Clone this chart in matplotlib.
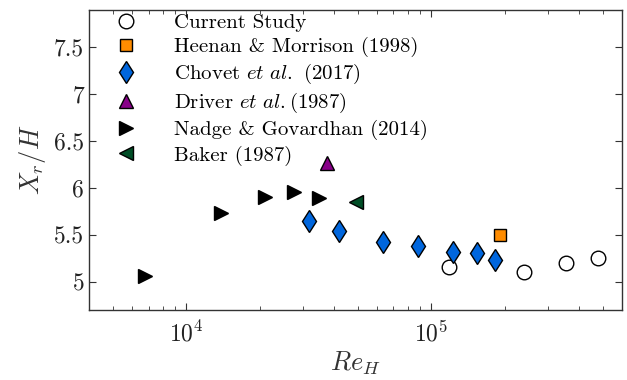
import numpy as np
import matplotlib
matplotlib.use('Agg')
import matplotlib.pyplot as plt
from matplotlib.ticker import FixedLocator, FixedFormatter

plt.rcParams['font.family'] = 'serif'
plt.rcParams['font.serif'] = ['cmr10']
plt.rcParams['mathtext.fontset'] = 'cm'
plt.rcParams['axes.formatter.use_mathtext'] = True

# data
re_current = [118000, 238000, 356000, 477000]
xr_current = [5.16, 5.11, 5.20, 5.25]

re_heenan = [190000]
xr_heenan = [5.50]

re_chovet = [31500, 42000, 63700, 88500, 123000, 154000, 181000]
xr_chovet = [5.65, 5.54, 5.43, 5.38, 5.32, 5.31, 5.23]

re_driver = [37300]
xr_driver = [6.27]

re_nadge = [6740, 13780, 20990, 27600, 34600]
xr_nadge = [5.06, 5.73, 5.91, 5.96, 5.89]

re_baker = [49000]
xr_baker = [5.85]

yticks = [5, 5.5, 6, 6.5, 7, 7.5]
ytick_labels = ['5', '5.5', '6', '6.5', '7', '7.5']

fig = plt.figure(figsize=(6.27, 3.8), dpi=100)
ax = fig.add_axes([0.142, 0.184, 0.85, 0.79])

ax.plot(re_current, xr_current, 'o', ms=10.5, mfc='white', mec='black', mew=1.0,
        label='Current Study')
ax.plot(re_heenan, xr_heenan, 's', ms=8, mfc='#ff8c00', mec='black', mew=1.0,
        label='Heenan & Morrison (1998)')
ax.plot(re_chovet, xr_chovet, 'd', ms=11.5, mfc='#0066dd', mec='black', mew=1.0,
        label=r'Chovet $\mathit{et\ al.}$ (2017)')
ax.plot(re_driver, xr_driver, '^', ms=10.5, mfc='#880088', mec='black', mew=1.0,
        label=r'Driver $\mathit{et\ al.}$(1987)')
ax.plot(re_nadge, xr_nadge, '>', ms=10.5, mfc='black', mec='black', mew=1.0,
        label='Nadge & Govardhan (2014)')
ax.plot(re_baker, xr_baker, '<', ms=10.5, mfc='#004d26', mec='black', mew=1.0,
        label='Baker (1987)')

ax.set_xscale('log')
ax.set_xlim(4000, 600000)
ax.set_ylim(4.7, 7.9)
ax.yaxis.set_major_locator(FixedLocator(yticks))
ax.yaxis.set_major_formatter(FixedFormatter(ytick_labels))

ax.tick_params(which='both', direction='in', top=True, right=True,
               labelsize=17, colors='#333333', labelcolor='#222222')
ax.tick_params(which='major', length=5)
ax.tick_params(which='minor', length=3)
ax.tick_params(axis='x', which='major', pad=8)
for s in ax.spines.values():
    s.set_color('#333333')
    s.set_linewidth(1.0)

ax.set_xlabel(r'$Re_H$', fontsize=19, color='#333333', labelpad=2)
ax.set_ylabel(r'$X_r/H$', fontsize=19, color='#333333')

ax.legend(loc='upper left', frameon=False, fontsize=15, handletextpad=1.3,
          labelspacing=0.24, borderaxespad=0.0, bbox_to_anchor=(0.014, 1.016),
          numpoints=1)

fig.savefig('out.png', dpi=100)
